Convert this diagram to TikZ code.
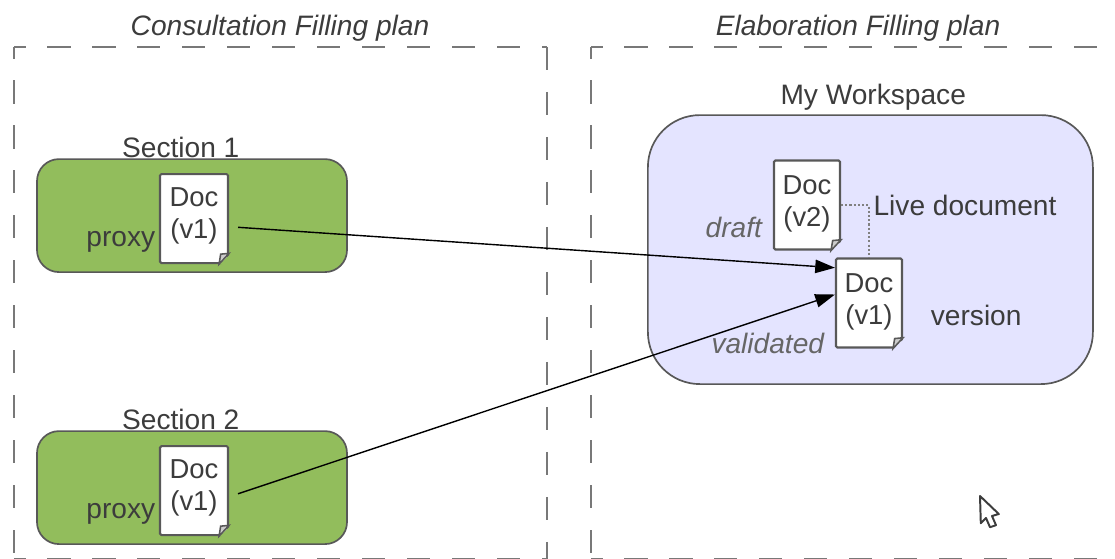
\documentclass[tikz,border=0pt]{standalone}
\usepackage{fontspec}
\usepackage{xcolor}
\setmainfont{Liberation Sans}
\usetikzlibrary{arrows.meta}

\definecolor{inkgray}{HTML}{3C3C3C}
\definecolor{edgegray}{HTML}{585858}
\definecolor{notegray}{HTML}{666666}
\definecolor{framegray}{HTML}{787878}
\definecolor{leafgreen}{HTML}{92BD5C}
\definecolor{paleblue}{HTML}{E4E4FF}

% corner of a page
\newcommand{\docfold}[2]{
	\fill [#2] ([xshift=-0.25cm]#1.south east) -- ([xshift=0.06cm,yshift=-0.06cm]#1.south east) -- ([yshift=0.27cm,xshift=0.06cm]#1.south east) -- cycle;
	\draw [line width=1.1pt, draw=edgegray, fill=gray!40] ([xshift=-0.25cm]#1.south east) -- ([xshift=-0.21cm,yshift=0.25cm]#1.south east) -- ([yshift=0.27cm]#1.south east) -- cycle;
}

\begin{document}
\begin{tikzpicture}[node distance = 2.5cm, auto]
	% % % % % % % % % % % % % % % % % % % % % % % % % % % % % %
	% Define styles
	\tikzstyle{title} = [text=inkgray, font=\fontsize{20}{23}\selectfont\itshape]
	\tikzstyle{label} = [text=inkgray, font=\fontsize{20}{23}\selectfont]
	\tikzstyle{note} = [text=notegray, font=\fontsize{20}{23}\selectfont\itshape]
	\tikzstyle{frame} = [draw=framegray, line width=2pt, dash pattern=on 16.4pt off 15.6pt]
	\tikzstyle{halfdash} = [dash phase=8.2pt]
	\tikzstyle{section} = [rectangle, draw=edgegray, fill=leafgreen, line width=1.2pt, rounded corners=0.55cm,
						   minimum width=7.75cm, minimum height=2.825cm]
	\tikzstyle{workspace} = [rectangle, draw=edgegray, fill=paleblue, line width=1.2pt, rounded corners=1.3cm,
							 minimum width=11.125cm, minimum height=6.725cm]
	\tikzstyle{page} = [rectangle, draw=edgegray, fill=white, line width=1.5pt, rounded corners=1pt, inner sep=0pt,
						minimum width=1.65cm, minimum height=2.225cm, align=center, text=inkgray, text depth=6pt,
						font=\fontsize{19.5}{22.8}\selectfont]
	\tikzstyle{line} = [draw, black, -{Triangle[length=14pt,width=9.5pt]}, line width=1pt]
	\tikzstyle{link} = [draw=gray, line width=1.5pt, dash pattern=on 1.5pt off 1.5pt]
	
	\useasboundingbox (0,0) rectangle (27.875,-13.975);
	
	% % % % % % % % % % % % % % % % % % % % % % % % % % % % % %
	% Frames
	\draw [frame, halfdash] (0.35,-1.175) -- (13.675,-1.175);
	\draw [frame, halfdash] (0.35,-1.175) -- (0.35,-13.99);
	\draw [frame] (13.675,-1.175) -- (13.675,-13.99);
	\draw [frame, halfdash] (0.35,-13.99) -- (13.675,-13.99);
	\draw [frame, halfdash] (14.775,-1.175) -- (27.875,-1.175);
	\draw [frame, halfdash] (14.775,-1.175) -- (14.775,-13.99);
	\draw [frame, halfdash] (14.775,-13.99) -- (27.875,-13.99);
	
	% % % % % % % % % % % % % % % % % % % % % % % % % % % % % %
	% Place nodes
	% titles
	\node [title] (ct) at (7,-0.7) {Consultation Filling plan};
	\node [title] (et) at (21.45,-0.7) {Elaboration Filling plan};
	% left side
	\node [section] (sa) at (4.8,-5.39) {};
	\node [section, below of=sa, node distance = 6.8cm] (sb) {};
	\node [label, above of=sa, node distance = 1.71cm, xshift=-0.28cm] (sal) {Section 1};
	\node [label, above of=sb, node distance = 1.71cm, xshift=-0.28cm] (sbl) {Section 2};
	\node [page, minimum width=1.7cm, text depth=8.5pt, below of=sa, node distance = 0.075cm, xshift=0.05cm] (da) {Doc\\(v1)};
	\node [page, minimum width=1.7cm, text depth=8.5pt, below of=sb, node distance = 0.075cm, xshift=0.05cm] (db) {Doc\\(v1)};
	\node [label, left of=da, node distance = 1.83cm, yshift=-0.575cm] (pa) {proxy};
	\node [label, left of=db, node distance = 1.83cm, yshift=-0.575cm] (pb) {proxy};
	% right side
	\node [workspace] (ws) at (21.76,-6.24) {};
	\node [label, above of=ws, node distance = 3.82cm, xshift=0.07cm] (wl) {My Workspace};
	\node [page] (dc) at (20.175,-5.125) {Doc\\(v2)};
	\node [page] (dd) at (21.725,-7.575) {Doc\\(v1)};
	\node [note, left of=dc, node distance = 1.83cm, yshift=-0.55cm] (dr) {draft};
	\node [note, left of=dd, node distance = 2.53cm, yshift=-1cm] (va) {validated};
	\node [label, right of=dd, node distance = 2.68cm, yshift=-0.32cm] (ve) {version};
	\node [label, right of=dc, node distance = 3.95cm] (li) {Live document};
	
	\docfold{da}{leafgreen}
	\docfold{db}{leafgreen}
	\docfold{dc}{paleblue}
	\docfold{dd}{paleblue}
	
	% Draw edges
	\path [link] (dc.east) -| (dd.north);
	\path [line, shorten <=6.4pt] (da.-13) -- (dd.134);
	\path [line, shorten <=6.7pt] (db.-10) -- (dd.166);
	
	% pointer
	\draw [draw=inkgray, fill=white, line width=1.4pt, line join=round] (24.5,-12.4) -- (24.97,-12.85) -- (24.8,-12.9) -- (24.9,-13.13) -- (24.75,-13.18) -- (24.65,-12.95) -- (24.52,-13.08) -- cycle;
\end{tikzpicture}
\end{document}
